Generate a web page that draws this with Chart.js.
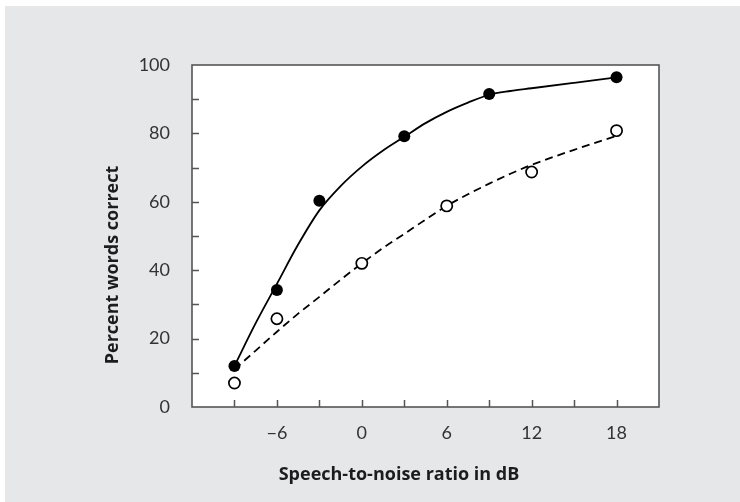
<!DOCTYPE html>
<html>
<head>
<meta charset="utf-8">
<script src="https://cdn.jsdelivr.net/npm/chart.js@4"></script>
<style>
  html, body { margin: 0; padding: 0; background: #ffffff; }
  #panel { position: absolute; left: 5px; top: 6px; width: 735px; height: 496px; background: #e6e7e8; }
  canvas { display: block; }
</style>
</head>
<body>
<div id="panel"><canvas id="chart" width="735" height="496"></canvas></div>
<script>
// Measured scores (percent words correct) at each speech-to-noise ratio
const snrFilled   = [-9, -6, -3, 3, 9, 18];
const scoreFilled = [12, 34.2, 60.3, 79.2, 91.5, 96.4];
const snrOpen     = [-9, -6, 0, 6, 12, 18];
const scoreOpen   = [7, 25.8, 42, 58.8, 68.7, 80.8];

// Smooth fitted curves through each group
const curveSnr    = [-9, -7.5, -6, -4.5, -3, -1.5, 0, 1.5, 3, 4.5, 6, 7.5, 9, 10.5, 12, 15, 18];
const curveSolid  = [12, 24.5, 36, 47.5, 57.5, 64.6, 70.3, 75, 79, 83, 86.3, 89, 91.3, 92.4, 93.2, 94.8, 96.4];
const curveDashed = [11, 16.5, 22, 27.3, 32.2, 37.2, 42, 46.5, 50.6, 54.8, 58.8, 62.2, 65.3, 68.2, 70.8, 75.2, 79.3];

// Axis labels
const xLabelTicks = [-6, 0, 6, 12, 18];
const yLabelTicks = [0, 20, 40, 60, 80, 100];
const xTitle = 'Speech-to-noise ratio in dB';
const yTitle = 'Percent words correct';

const toPoints = (xs, ys) => xs.map((x, i) => ({ x: x, y: ys[i] }));

// White plot area, frame, inward tick marks and axis titles
const frame = {
  id: 'frame',
  beforeDraw(chart) {
    const { ctx, chartArea: a } = chart;
    ctx.save();
    ctx.fillStyle = '#ffffff';
    ctx.fillRect(a.left, a.top, a.right - a.left, a.bottom - a.top);
    ctx.restore();
  },
  afterDraw(chart) {
    const { ctx, chartArea: a, scales } = chart;
    ctx.save();
    ctx.strokeStyle = '#555555';
    ctx.lineWidth = 1.6;
    ctx.strokeRect(a.left, a.top, a.right - a.left, a.bottom - a.top);

    ctx.lineWidth = 1.5;
    ctx.beginPath();
    scales.x.ticks.forEach(t => {
      if (t.value <= scales.x.min || t.value >= scales.x.max) return;
      const px = Math.round(scales.x.getPixelForValue(t.value)) + 0.5;
      ctx.moveTo(px, a.bottom);
      ctx.lineTo(px, a.bottom - 7);
    });
    scales.y.ticks.forEach(t => {
      if (t.value <= scales.y.min || t.value >= scales.y.max) return;
      const py = Math.round(scales.y.getPixelForValue(t.value)) + 0.5;
      ctx.moveTo(a.left, py);
      ctx.lineTo(a.left + 7, py);
    });
    ctx.stroke();

    ctx.fillStyle = '#1c1c1c';
    ctx.font = 'bold 18px "Open Sans", Lato, sans-serif';
    ctx.textAlign = 'center';
    ctx.textBaseline = 'middle';
    ctx.fillText(xTitle, 394, 469);

    ctx.translate(107.5, 259);
    ctx.rotate(-Math.PI / 2);
    ctx.fillText(yTitle, 0, 0);
    ctx.restore();
  }
};

new Chart(document.getElementById('chart'), {
  type: 'scatter',
  data: {
    datasets: [
      {
        label: 'filled',
        data: toPoints(snrFilled, scoreFilled),
        showLine: false,
        pointRadius: 6,
        pointBackgroundColor: '#000000',
        pointBorderColor: '#000000',
        pointBorderWidth: 0
      },
      {
        label: 'open',
        data: toPoints(snrOpen, scoreOpen),
        showLine: false,
        pointRadius: 5.6,
        pointBackgroundColor: '#ffffff',
        pointBorderColor: '#000000',
        pointBorderWidth: 1.7
      },
      {
        label: 'solid fit',
        data: toPoints(curveSnr, curveSolid),
        showLine: true,
        pointRadius: 0,
        borderColor: '#000000',
        borderWidth: 1.8,
        cubicInterpolationMode: 'monotone'
      },
      {
        label: 'dashed fit',
        data: toPoints(curveSnr, curveDashed),
        showLine: true,
        pointRadius: 0,
        borderColor: '#000000',
        borderWidth: 1.8,
        borderDash: [8, 5],
        cubicInterpolationMode: 'monotone'
      }
    ]
  },
  options: {
    responsive: false,
    animation: false,
    devicePixelRatio: 1,
    layout: { padding: { top: 59, right: 81, left: 0, bottom: 0 } },
    plugins: { legend: { display: false }, tooltip: { enabled: false } },
    scales: {
      x: {
        type: 'linear',
        min: -12,
        max: 21,
        border: { display: false },
        grid: { display: false },
        ticks: {
          stepSize: 3,
          padding: 7,
          color: '#333333',
          font: { family: 'Lato, "Open Sans", sans-serif', size: 18 },
          callback: v => xLabelTicks.includes(v) ? (v < 0 ? '\u2212' + Math.abs(v) : String(v)) : ''
        },
        afterFit: s => { s.height = 95; }
      },
      y: {
        type: 'linear',
        min: 0,
        max: 100,
        border: { display: false },
        grid: { display: false },
        ticks: {
          stepSize: 10,
          padding: 14,
          color: '#333333',
          font: { family: 'Lato, "Open Sans", sans-serif', size: 18 },
          callback: v => yLabelTicks.includes(v) ? String(v) : ''
        },
        afterFit: s => { s.width = 187; }
      }
    }
  },
  plugins: [frame]
});
</script>
</body>
</html>
